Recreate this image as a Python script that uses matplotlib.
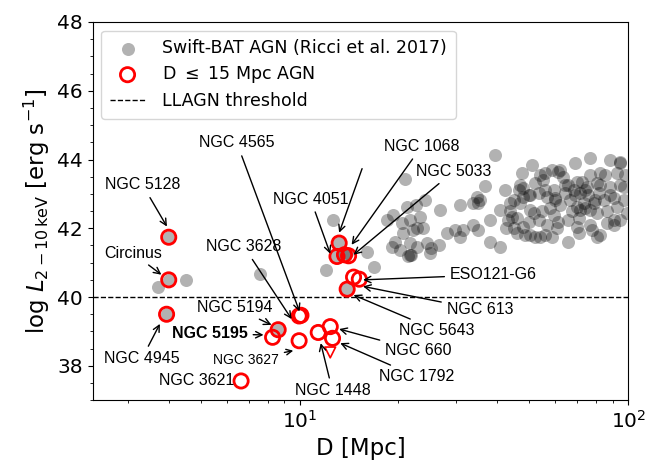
import numpy as np
import matplotlib.pyplot as plt
from matplotlib.ticker import MultipleLocator

# Swift-BAT AGN (Ricci et al. 2017): distance [Mpc], log L(2-10 keV)
ricci_D = [4.0, 4.0, 3.94, 3.72, 4.53, 7.59, 8.61,
           13.2, 13.0, 13.7, 13.9, 13.96, 12.6, 12.0, 16.8, 16.0,
           20.9, 18.4, 19.3, 20.5, 21.7, 21.2, 22.6, 22.7, 20.7, 19.5,
           19.1, 21.7, 20.2, 21.7, 21.4, 22.2, 24.1, 23.3, 23.8, 24.4,
           25.2, 26.5, 24.9, 22.7, 21.9, 26.8, 28.0, 29.7, 31.5, 30.8,
           30.8, 33.8, 35.0, 34.6, 35.4, 36.7, 39.4, 38.0, 33.8, 35.0,
           38.0, 40.8, 43.7, 43.2, 42.5, 40.8, 42.2,
           50.9, 58.6, 69.0, 76.6, 88.1, 94.6, 47.4, 48.0, 52.1, 55.2,
           59.3, 63.5, 64.3, 72.3, 80.4, 88.1, 96.8, 73.1, 69.8, 76.6,
           66.6, 62.1, 57.9, 54.6, 50.4, 46.9, 44.8, 45.8, 49.8, 53.4,
           56.5, 61.3, 65.8, 70.6, 80.4, 86.1, 92.5, 96.8, 84.1, 90.2,
           81.3, 75.7, 48.5, 52.1, 55.8, 44.8, 65.8, 82.3, 86.1, 94.6,
           60.7, 69.8, 76.6, 44.3, 45.8, 48.0, 50.4, 54.0, 80.4, 90.2,
           99.0, 69.0, 74.0, 64.3, 79.4, 82.2, 60.0, 55.8, 71.5, 88.1,
           94.6, 62.1, 54.0, 85.1, 97.9, 76.6, 50.4, 46.9,
           43.7, 46.4, 49.8, 53.4, 56.5, 60.0, 68.3, 71.5, 74.0, 78.5,
           67.3, 59.3, 51.5, 48.0, 55.8, 61.3, 82.3, 92.5, 94.6, 90.2,
           77.5, 70.6, 58.6, 74.8, 69.8, 65.8]
ricci_L = [41.74, 40.50, 39.50, 40.29, 40.50, 40.67, 39.05,
           41.57, 41.18, 41.23, 41.28, 40.23, 42.25, 40.79, 40.87, 41.32,
           43.43, 42.24, 42.39, 42.15, 42.24, 42.63, 42.68, 42.00, 41.86, 41.61,
           41.47, 41.57, 41.37, 41.23, 41.18, 41.95, 42.83, 42.34, 42.00, 41.57,
           41.42, 41.52, 41.28, 41.47, 41.23, 42.53, 41.86, 41.95, 41.95, 41.76,
           42.68, 42.73, 42.73, 42.92, 42.83, 43.23, 44.13, 42.24, 42.10, 41.95,
           41.61, 41.47, 42.73, 42.24, 42.00, 42.53, 43.12,
           43.84, 43.70, 43.89, 44.04, 43.99, 43.94, 43.60, 43.16, 43.31, 43.41,
           43.12, 43.50, 43.02, 43.36, 43.31, 43.21, 43.21, 42.73, 42.63, 42.53,
           42.83, 42.68, 42.58, 42.49, 42.53, 42.73, 42.83, 42.29, 42.19, 42.24,
           42.10, 42.19, 42.24, 42.29, 42.44, 42.49, 42.63, 42.83, 42.83, 42.87,
           43.02, 42.97, 41.81, 41.76, 41.81, 42.00, 41.61, 41.81, 42.15, 42.24,
           42.00, 42.05, 42.10, 42.34, 41.86, 42.05, 41.81, 41.76, 41.76, 42.24,
           42.44, 42.97, 43.12, 43.26, 42.83, 43.26, 42.83, 43.12, 42.53, 42.97,
           43.26, 43.70, 43.55, 43.55, 43.55, 43.55, 42.97, 43.26,
           42.49, 43.12, 42.97, 43.02, 42.92, 42.87, 43.12, 43.02, 42.58, 42.73,
           42.49, 42.39, 42.44, 42.92, 43.60, 43.65, 43.60, 43.60, 43.89, 42.10,
           41.95, 41.86, 41.76, 43.21, 43.36, 43.26]

# D <= 15 Mpc AGN
near_D = [4.0, 4.0, 3.94, 6.64, 8.61, 8.28, 9.97, 10.1, 9.97, 11.4,
          12.4, 12.6, 13.2, 13.0, 13.7, 14.1, 13.96, 14.6, 15.2]
near_L = [41.74, 40.50, 39.50, 37.56, 39.05, 38.83, 39.45, 39.47, 38.73, 38.97,
          39.14, 38.80, 41.57, 41.18, 41.23, 41.20, 40.23, 40.58, 40.52]
ulim_D = [12.4]
ulim_L = [38.39]

threshold = 40

# label text, text position (D, L), arrow target (D, L) or None
labels = ["NGC 5128", "Circinus", "NGC 4945", "NGC 3621", "NGC 5195",
          "NGC 5194", "NGC 3628", "NGC 4565", "NGC 3627", "NGC 1448",
          "NGC 660", "NGC 1792", "NGC 5643", "NGC 613", "ESO121-G6",
          "NGC 5033", "NGC 1068", "NGC 4051", ""]
text_pos = [(3.33, 43.26), (3.11, 41.28), (3.31, 38.20), (4.88, 37.56), (5.33, 38.93),
            (6.36, 39.69), (6.78, 41.46), (6.45, 44.48), (6.87, 38.17), (12.6, 37.27),
            (23.0, 38.44), (22.7, 37.69), (26.2, 39.03), (35.4, 39.63), (38.9, 40.65),
            (29.4, 43.65), (23.5, 44.38), (10.8, 42.85), (15.6, 43.81)]
arrow_to = [(3.95, 42.05), (3.80, 40.65), (3.76, 39.22), None, (7.77, 38.90),
            (8.22, 39.19), (9.46, 39.36), (10.0, 39.58), (9.57, 38.44), (11.6, 38.66),
            (13.2, 39.07), (13.3, 38.66), (14.6, 40.06), (15.6, 40.31), (15.6, 40.50),
            (14.6, 41.23), (14.4, 41.52), (12.4, 41.26), (13.2, 41.87)]

fig = plt.figure(figsize=(6.49, 4.67), dpi=100)
ax = fig.add_axes([0.143, 0.143, 0.825, 0.810])

ax.scatter(ricci_D, ricci_L, s=88, color='k', alpha=0.3, lw=0,
           label='Swift-BAT AGN (Ricci et al. 2017)', zorder=2)
ax.scatter(near_D, near_L, s=105, facecolors='none', edgecolors='red', lw=2,
           label=r'D $\leq$ 15 Mpc AGN', zorder=3)
ax.scatter(ulim_D, ulim_L, s=60, marker='v', facecolors='none', edgecolors='red',
           lw=1.2, zorder=3)
ax.axhline(threshold, color='k', ls='--', lw=1, label='LLAGN threshold', zorder=1)

for txt, pos, tgt in zip(labels, text_pos, arrow_to):
    fs = 10 if txt == "NGC 3627" else 11.5
    fw = 'bold' if txt == "NGC 5195" else 'normal'
    if tgt is None:
        ax.text(pos[0], pos[1], txt, ha='center', va='center', fontsize=fs,
                family='Liberation Sans', zorder=4)
    else:
        ax.annotate(txt, xy=tgt, xytext=pos, ha='center', va='center',
                    fontsize=fs, fontweight=fw, family='Liberation Sans',
                    arrowprops=dict(arrowstyle='->', color='k', lw=1,
                                    shrinkA=2, shrinkB=0), zorder=4)

ax.set_xscale('log')
ax.set_xlim(2.35, 100)
ax.set_ylim(37, 48)
ax.yaxis.set_major_locator(MultipleLocator(2))
ax.yaxis.set_minor_locator(MultipleLocator(0.5))
ax.tick_params(labelsize=14.5)
ax.set_xlabel('D [Mpc]', fontsize=16.5)
ax.set_ylabel(r'log $L_{2-10\,\rm keV}$ [erg s$^{-1}$]', fontsize=16.5)

ax.legend(loc='upper left', fontsize=12.5, borderpad=0.5, handletextpad=1.0,
          labelspacing=0.4, borderaxespad=0.5)

fig.savefig('out.png', dpi=100)
